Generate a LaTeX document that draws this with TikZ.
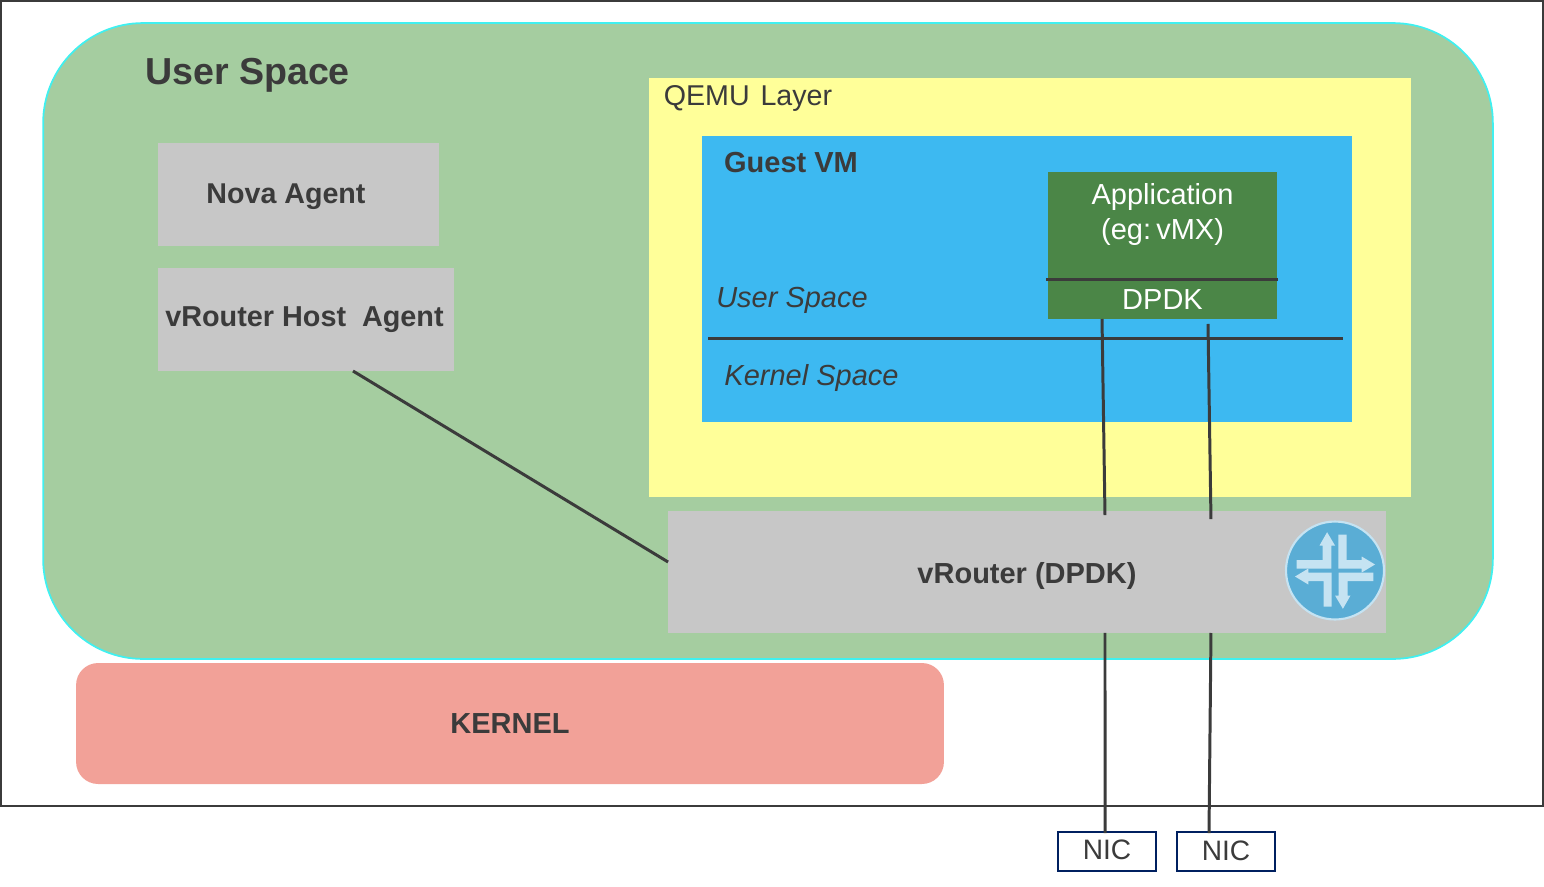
\documentclass[tikz,border=0pt]{standalone}
\usepackage{fontspec}
\setmainfont{Liberation Sans}
\usetikzlibrary{positioning}
\definecolor{usergreen}{RGB}{165, 205, 160}
\definecolor{usercyan}{RGB}{64, 240, 240}
\definecolor{qemuyellow}{RGB}{255, 255, 153}
\definecolor{guestblue}{RGB}{61, 185, 241}
\definecolor{appgreen}{RGB}{75, 134, 71}
\definecolor{agentgrey}{RGB}{199, 199, 199}
\definecolor{kernelred}{RGB}{242, 161, 152}
\definecolor{nicblue}{RGB}{0, 32, 96}
\definecolor{logoblue}{RGB}{90, 173, 213}
\definecolor{logolight}{RGB}{197, 227, 242}
\definecolor{inkgrey}{RGB}{59, 59, 59}
\tikzset{
  area/.style={inner sep=0pt, outer sep=0pt, text=inkgrey},
  greybox/.style={area, fill=agentgrey, font=\fontsize{16.4}{20}\selectfont\bfseries},
  caption/.style={inner sep=0pt, outer sep=0pt, text=inkgrey, font=\fontsize{16.5}{20}\selectfont},
  wire/.style={draw=inkgrey, line width=1.7pt},
  nicbox/.style={area, draw=nicblue, line width=1.3pt, minimum width=1.96cm, minimum height=0.78cm, font=\fontsize{16}{20}\selectfont},
  logoarrow/.style={fill=logolight},
}
\begin{document}
\begin{tikzpicture}[x=0.02cm, y=-0.02cm]
        \useasboundingbox (0,0) rectangle (1544,886);
        \node[area, draw=inkgrey, line width=0.8pt, minimum width=30.84cm, minimum height=16.1cm] (frame) at (772,403.5) {};
        \node[area, fill=usergreen, draw=usercyan, line width=1pt, rounded corners=2cm, minimum width=29cm, minimum height=12.72cm] (userspace) at (768,341) {};
        \node[area, fill=qemuyellow, minimum width=15.24cm, minimum height=8.38cm] (qemu) at (1030,287.5) {};
        \node[area, fill=guestblue, minimum width=13cm, minimum height=5.72cm] (guest) at (1027,279) {};
        \node[area, fill=appgreen, minimum width=4.58cm, minimum height=2.94cm] (app) at (1162.5,245.5) {};

        \node[greybox, minimum width=5.62cm, minimum height=2.06cm] (nova) at (298.5,194.5) {};
        \node[greybox, minimum width=5.92cm, minimum height=2.06cm] (hostagent) at (306,319.5) {};
        \node[greybox, minimum width=14.36cm, minimum height=2.44cm] (vrouter) at (1027,572) {};
        \node[greybox, fill=kernelred, font=\fontsize{16.5}{20}\selectfont\bfseries, rounded corners=0.44cm, minimum width=17.36cm, minimum height=2.42cm] (kernel) at (510,723.5) {KERNEL};

        \node[caption, font=\fontsize{21.4}{26}\selectfont\bfseries] (usertitle) at (247.5,75) {User Space};
        \node[caption, font=\fontsize{16.3}{20}\selectfont] (qemutitle) at (748,98) {QEMU\hspace{0.1em} Layer};
        \node[caption, font=\fontsize{16.5}{20}\selectfont\bfseries] (guesttitle) at (791,163) {Guest VM};
        \node[caption, font=\fontsize{16.3}{20}\selectfont\bfseries] (novatext) at (286,197) {Nova Agent};
        \node[caption, font=\fontsize{16.4}{20}\selectfont\bfseries] (hostagenttext) at (304.5,319.5) {vRouter Host\hspace{0.55em}Agent};
        \node[caption, font=\fontsize{16.5}{20}\selectfont\bfseries] (vroutertext) at (1027,576) {vRouter (DPDK)};
        \node[caption, font=\fontsize{16.5}{20}\selectfont\itshape] (guestuser) at (792,300) {User Space};
        \node[caption, font=\fontsize{16.5}{20}\selectfont\itshape] (guestkernel) at (811.5,378) {Kernel Space};
        \node[caption, text=white, align=center] (apptext) at (1162.5,214.5) {Application\\[-0.5pt](eg:\hspace{0.18em}vMX)};
        \node[caption, text=white] (dpdk) at (1162.5,300) {DPDK};

        \node[nicbox] (nicleft) at (1107,851.5) {\raisebox{2pt}{NIC}};
        \node[nicbox] (nicright) at (1226,851.5) {\raisebox{1pt}{NIC}};

        % separators inside the guest
        \draw[wire] ([xshift=-0.04cm, yshift=0.79cm]app.south west) -- ([xshift=0.02cm, yshift=0.79cm]app.south east);
        \draw[wire] ([xshift=0.12cm, yshift=1.67cm]guest.south west) -- ([xshift=-0.18cm, yshift=1.67cm]guest.south east);

        \draw[wire] ([xshift=3.9cm]hostagent.south west) -- ([yshift=0.2cm]vrouter.west);
        \draw[wire] ([xshift=1.08cm]app.south west) -- ([xshift=8.74cm, yshift=-0.08cm]vrouter.north west);
        \draw[wire] ([xshift=3.2cm, yshift=-0.1cm]app.south west) -- ([xshift=10.86cm, yshift=-0.16cm]vrouter.north west);
        \draw[wire] ([xshift=8.74cm]vrouter.south west) -- ([xshift=-0.04cm, yshift=-0.02cm]nicleft.north);
        \draw[wire] ([xshift=10.86cm]vrouter.south west) -- ([xshift=-0.34cm, yshift=-0.02cm]nicright.north);

        % logo
        \node[circle, inner sep=0pt, outer sep=0pt, fill=logoblue, draw=logolight, line width=1.2pt, minimum size=1.96cm] (logo) at (1335,570.5) {};
        \foreach \turn in {0,180} {
          \begin{scope}[shift={(1335,570.5)}, rotate=\turn]
            \fill[logoarrow] (-38.3,-10.5) -- (-12.5,-10.5) -- (-12.5,-25) -- (-15.5,-25) -- (-7.9,-38.3) -- (0,-25) -- (-3.6,-25) -- (-3.6,-2) -- (-38.3,-2) -- cycle;
            \fill[logoarrow] (3.3,-36) -- (11.5,-36) -- (11.5,-10.5) -- (26.7,-10.5) -- (26.7,-14) -- (40,-6) -- (26.7,2) -- (26.7,-2) -- (3.3,-2) -- cycle;
          \end{scope}
        }
\end{tikzpicture}
\end{document}
